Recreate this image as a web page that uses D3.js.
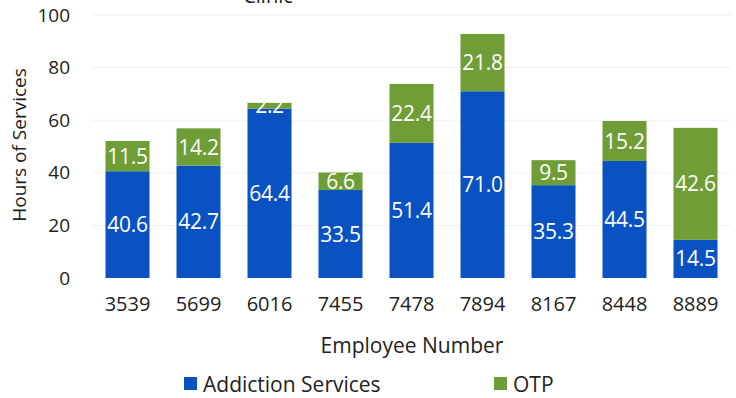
<!DOCTYPE html>
<html>
<head>
<meta charset="utf-8">
<script src="https://d3js.org/d3.v7.min.js"></script>
<style>
  body { margin: 0; background: #fff; }
  text { font-family: "Open Sans", "Noto Sans", sans-serif; }
</style>
</head>
<body>
<div id="chart"></div>
<script>
// data
var employees = ['3539', '5699', '6016', '7455', '7478', '7894', '8167', '8448', '8889'];
var addiction = [40.6, 42.7, 64.4, 33.5, 51.4, 71.0, 35.3, 44.5, 14.5];
var otp       = [11.5, 14.2, 2.2, 6.6, 22.4, 21.8, 9.5, 15.2, 42.6];
var y_ticks   = [0, 20, 40, 60, 80, 100];
var series_names = ['Addiction Services', 'OTP'];

var chart_width  = 736;
var chart_height = 398;
var blue  = '#0a52c2';
var green = '#6e9e35';

var svg = d3.select('#chart')
		.append('svg')
		.attr('width', chart_width)
		.attr('height', chart_height);

// scales
var x_scale = d3.scaleBand()
		.domain(employees)
		.range([92, 731])
		.paddingInner(0.38)
		.paddingOuter(0.19);

var y_scale = d3.scaleLinear()
		.domain([0, 100])
		.range([278, 15]);

// gridlines
svg.append('g')
		.selectAll('line')
		.data(y_ticks.slice(1))
		.enter()
		.append('line')
		.attr('x1', 92)
		.attr('x2', 731)
		.attr('y1', function(d){ return y_scale(d); })
		.attr('y2', function(d){ return y_scale(d); })
		.attr('stroke', '#efefef')
		.attr('stroke-width', 1);

// title (cut off at the top, as in the scan)
svg.append('text')
		.text('Clinic')
		.attr('x', 268)
		.attr('y', 3)
		.attr('text-anchor', 'middle')
		.attr('font-size', 20)
		.attr('fill', '#222');

// stack
var rows = employees.map(function(e, i){
	return { emp: e, a: addiction[i], o: otp[i] };
});
var stack = d3.stack().keys(['a', 'o'])(rows);
var colors = [blue, green];

var layers = svg.selectAll('g.layer')
		.data(stack)
		.enter()
		.append('g')
		.attr('class', 'layer')
		.attr('fill', function(d, i){ return colors[i]; });

layers.selectAll('rect')
		.data(function(d){ return d; })
		.enter()
		.append('rect')
		.attr('x', function(d){ return x_scale(d.data.emp); })
		.attr('y', function(d){ return y_scale(d[1]); })
		.attr('width', x_scale.bandwidth())
		.attr('height', function(d){ return y_scale(d[0]) - y_scale(d[1]); });

// value labels
layers.selectAll('text')
		.data(function(d){ return d; })
		.enter()
		.append('text')
		.text(function(d){ return (d[1] - d[0]).toFixed(1); })
		.attr('x', function(d){ return x_scale(d.data.emp) + x_scale.bandwidth() / 2; })
		.attr('y', function(d){ return (y_scale(d[0]) + y_scale(d[1])) / 2; })
		.attr('dy', '0.36em')
		.attr('text-anchor', 'middle')
		.attr('font-size', 21)
		.attr('letter-spacing', '-0.3')
		.attr('fill', '#fff');

// y axis labels
var y_axis = d3.axisLeft(y_scale)
		.tickValues(y_ticks)
		.tickSize(0)
		.tickPadding(0);

svg.append('g')
		.attr('transform', 'translate(70,0)')
		.call(y_axis)
		.call(function(g){ g.select('.domain').remove(); })
		.selectAll('text')
		.attr('font-size', 19)
		.attr('font-family', '"Open Sans", sans-serif')
		.attr('fill', '#222');

// x axis labels
var x_axis = d3.axisBottom(x_scale)
		.tickSize(0)
		.tickPadding(0);

svg.append('g')
		.attr('transform', 'translate(0,297)')
		.call(x_axis)
		.call(function(g){ g.select('.domain').remove(); })
		.selectAll('text')
		.attr('font-size', 20)
		.attr('font-family', '"Open Sans", sans-serif')
		.attr('fill', '#222');

// axis titles
svg.append('text')
		.text('Hours of Services')
		.attr('transform', 'translate(26,145) rotate(-90)')
		.attr('text-anchor', 'middle')
		.attr('font-size', 19)
		.attr('fill', '#222');

svg.append('text')
		.text('Employee Number')
		.attr('x', 412)
		.attr('y', 353)
		.attr('text-anchor', 'middle')
		.attr('font-size', 21)
		.attr('fill', '#222');

// legend
var legend_x = [184, 494];
var legend = svg.selectAll('g.legend')
		.data(series_names)
		.enter()
		.append('g')
		.attr('class', 'legend')
		.attr('transform', function(d, i){ return 'translate(' + legend_x[i] + ',377)'; });

legend.append('rect')
		.attr('width', 13)
		.attr('height', 13)
		.attr('fill', function(d, i){ return colors[i]; });

legend.append('text')
		.text(function(d){ return d; })
		.attr('x', 19)
		.attr('y', 7)
		.attr('dy', '0.36em')
		.attr('font-size', 21)
		.attr('fill', '#222');
</script>
</body>
</html>
